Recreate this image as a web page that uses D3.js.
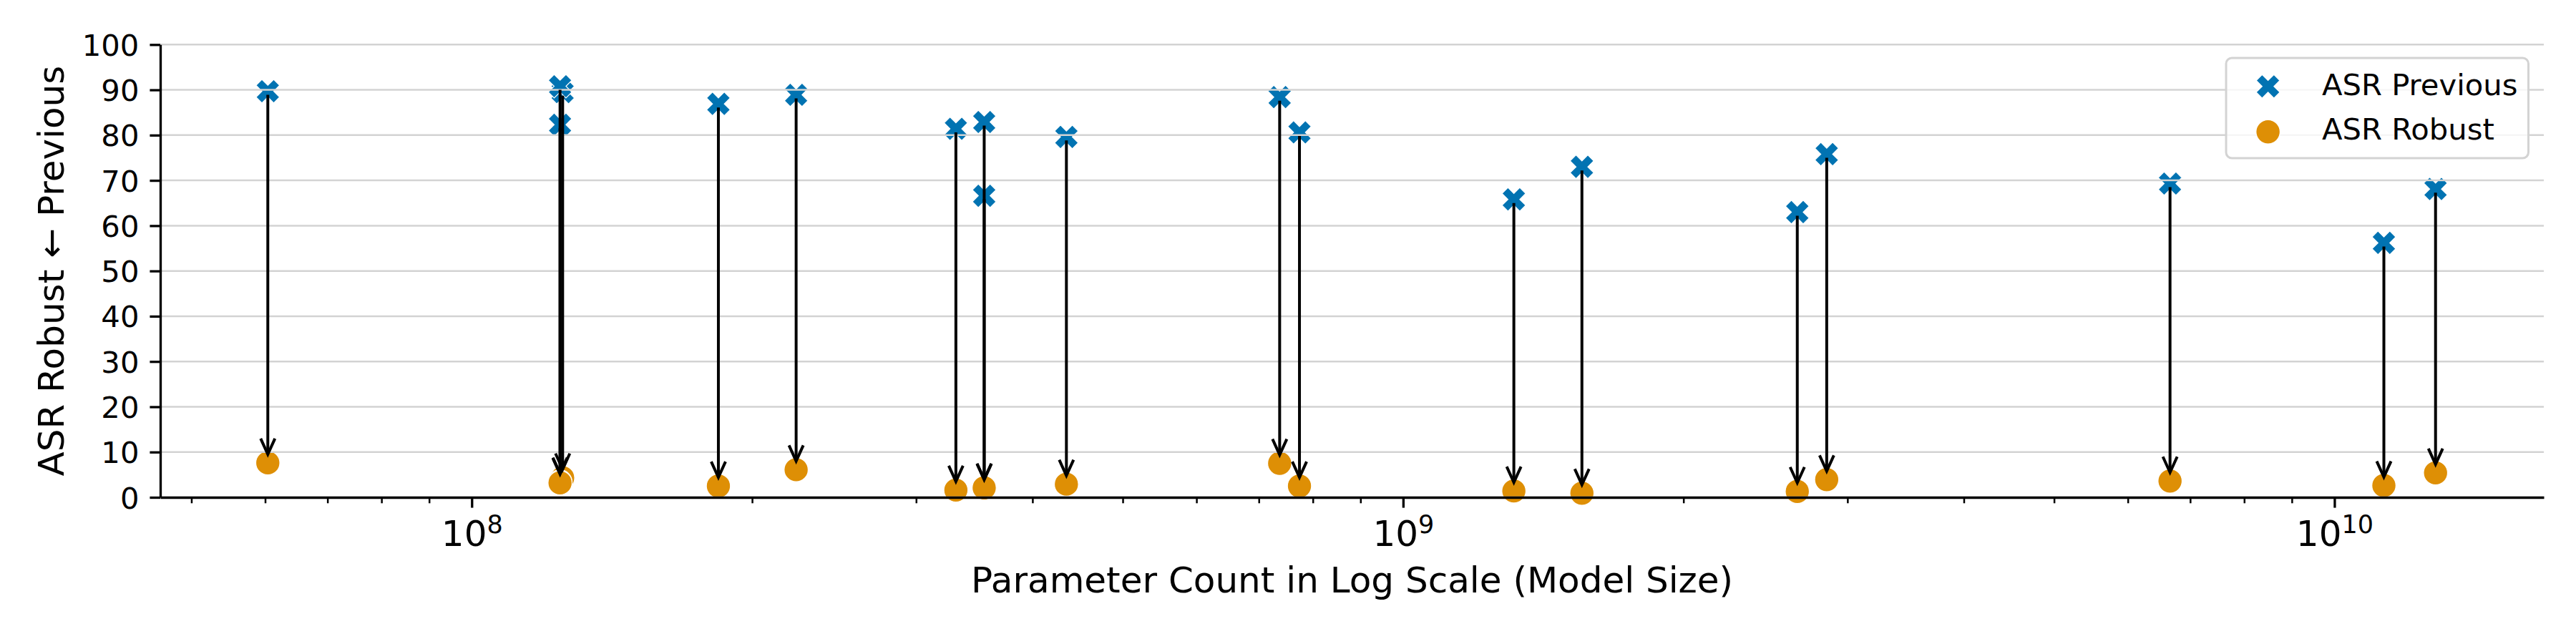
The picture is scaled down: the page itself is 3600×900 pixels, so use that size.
<!DOCTYPE html>
<html>
<head>
<meta charset="utf-8">
<script src="https://cdn.jsdelivr.net/npm/d3@7"></script>
<style>
  html, body { margin: 0; padding: 0; background: #ffffff; }
  svg { display: block; font-family: "DejaVu Sans", sans-serif; }
</style>
</head>
<body>
<svg id="chart" width="3600" height="900"></svg>
<script>
// ---- data ----
const paramCounts = [6.04e7, 1.252e8, 1.244e8, 1.244e8, 1.84e8, 2.23e8, 3.31e8, 3.55e8, 3.55e8,
                     4.35e8, 7.37e8, 7.74e8, 1.315e9, 1.556e9, 2.65e9, 2.85e9, 6.66e9, 1.13e10, 1.284e10];
const asrPrevious = [89.7, 89.5, 82.3, 90.8, 86.9, 88.9, 81.4, 66.6, 82.9,
                     79.6, 88.4, 80.6, 65.8, 73.0, 63.0, 75.8, 69.3, 56.2, 68.1];
const asrRobust   = [7.6, 4.3, 3.4, 3.2, 2.5, 6.1, 1.6, 2.0, 2.1,
                     2.9, 7.5, 2.5, 1.4, 0.9, 1.3, 3.9, 3.6, 2.6, 5.4];
const yTicks = [0, 10, 20, 30, 40, 50, 60, 70, 80, 90, 100];
const xMajorExponents = [8, 9, 10];
const seriesNames = ["ASR Previous", "ASR Robust"];
const seriesColors = ["#0173b2", "#de8f05"];
const xLabel = "Parameter Count in Log Scale (Model Size)";
const yLabel = "ASR Robust \u2190 Previous";

// ---- layout ----
const svg = d3.select("#chart");
const pLeft = 224, pRight = 3555, pTop = 62.3, pBottom = 695;
const x = d3.scaleLog().domain([4.63e7, 1.678e10]).range([pLeft, pRight]);
const y = d3.scaleLinear().domain([0, 100]).range([pBottom, pTop]);

const data = paramCounts.map((p, i) => ({ p, prev: asrPrevious[i], rob: asrRobust[i] }));

const xSym = d3.symbol().type(d3.symbolCross).size(680);
const markG = svg.append("g");

// previous (X markers)
markG.selectAll("path.prev").data(data).enter().append("path")
  .attr("class", "prev")
  .attr("d", xSym)
  .attr("transform", d => `translate(${x(d.p)},${y(d.prev)}) rotate(45)`)
  .attr("fill", seriesColors[0])
  .attr("stroke", "#ffffff").attr("stroke-width", 1.2);

// robust (circles)
markG.selectAll("circle.rob").data(data).enter().append("circle")
  .attr("class", "rob")
  .attr("cx", d => x(d.p)).attr("cy", d => y(d.rob)).attr("r", 16.8)
  .attr("fill", seriesColors[1])
  .attr("stroke", "#ffffff").attr("stroke-width", 1.2);

// grid (drawn over markers, as in the reference)
svg.append("g").selectAll("line").data(yTicks).enter().append("line")
  .attr("x1", pLeft).attr("x2", pRight)
  .attr("y1", d => y(d)).attr("y2", d => y(d))
  .attr("stroke", "#d3d3d3").attr("stroke-width", 2.5);

// axes
const yAxis = d3.axisLeft(y).tickValues(yTicks).tickSize(14.6).tickSizeOuter(0).tickPadding(15)
  .tickFormat(d3.format("d"));
const yG = svg.append("g").attr("transform", `translate(${pLeft},0)`).call(yAxis);
yG.select(".domain").attr("stroke", "#000").attr("stroke-width", 3.3);
yG.selectAll(".tick line").attr("stroke", "#000").attr("stroke-width", 3.3);
yG.selectAll(".tick text").attr("font-size", 41.7).attr("font-family", "DejaVu Sans")
  .attr("fill", "#000").attr("dy", "0.36em");

const majorVals = xMajorExponents.map(e => Math.pow(10, e));
const minorVals = [];
for (let e = 7; e <= 10; e++) for (let m = 2; m <= 9; m++) {
  const v = m * Math.pow(10, e);
  if (v >= x.domain()[0] && v <= x.domain()[1]) minorVals.push(v);
}
const xMinor = d3.axisBottom(x).tickValues(minorVals).tickSize(8.3).tickSizeOuter(0).tickFormat("");
const xMinG = svg.append("g").attr("transform", `translate(0,${pBottom})`).call(xMinor);
xMinG.select(".domain").remove();
xMinG.selectAll(".tick line").attr("stroke", "#000").attr("stroke-width", 2.5);

const xMajor = d3.axisBottom(x).tickValues(majorVals).tickSize(14.6).tickSizeOuter(0).tickFormat("");
const xG = svg.append("g").attr("transform", `translate(0,${pBottom})`).call(xMajor);
xG.select(".domain").attr("stroke", "#000").attr("stroke-width", 3.3);
xG.selectAll(".tick line").attr("stroke", "#000").attr("stroke-width", 3.3);
xG.selectAll(".tick text").remove();
xG.selectAll(".tick").data(xMajorExponents).each(function(e) {
  const t = d3.select(this).append("text")
    .attr("y", 68).attr("text-anchor", "middle")
    .attr("font-family", "DejaVu Sans").attr("fill", "#000").attr("font-size", 50);
  t.append("tspan").text("10");
  t.append("tspan").attr("font-size", 35).attr("dy", -18).text(String(e));
});

// arrows (on top)
const arrowG = svg.append("g");
data.forEach(d => {
  const xp = x(d.p), y1 = y(d.prev) + 5, y2 = y(d.rob) - 12;
  arrowG.append("line").attr("x1", xp).attr("x2", xp).attr("y1", y1).attr("y2", y2 - 1)
    .attr("stroke", "#000").attr("stroke-width", 4);
  arrowG.append("path")
    .attr("d", `M${xp - 10},${y2 - 22} L${xp},${y2} L${xp + 10},${y2 - 22}`)
    .attr("fill", "none").attr("stroke", "#000").attr("stroke-width", 4)
    .attr("stroke-linejoin", "miter").attr("stroke-linecap", "butt");
});

// axis labels
svg.append("text").attr("x", (pLeft + pRight) / 2).attr("y", 828)
  .attr("text-anchor", "middle").attr("font-size", 50).attr("font-family", "DejaVu Sans")
  .text(xLabel);
svg.append("text").attr("transform", `translate(89,${(pTop + pBottom) / 2}) rotate(-90)`)
  .attr("text-anchor", "middle").attr("font-size", 50).attr("font-family", "DejaVu Sans")
  .text(yLabel);

// legend
const lg = svg.append("g");
lg.append("rect").attr("x", 3111).attr("y", 81).attr("width", 422.5).attr("height", 140)
  .attr("rx", 8).attr("ry", 8)
  .attr("fill", "#ffffff").attr("fill-opacity", 0.8)
  .attr("stroke", "#d3d3d3").attr("stroke-width", 3);
lg.append("path").attr("d", xSym)
  .attr("transform", "translate(3169.6,120.7) rotate(45)")
  .attr("fill", seriesColors[0]).attr("stroke", "#fff").attr("stroke-width", 1.2);
lg.append("circle").attr("cx", 3169.6).attr("cy", 184.3).attr("r", 16.8)
  .attr("fill", seriesColors[1]).attr("stroke", "#fff").attr("stroke-width", 1.2);
lg.selectAll("text.leg").data(seriesNames).enter().append("text")
  .attr("x", 3245).attr("y", (d, i) => [133.3, 195][i])
  .attr("font-size", 41.7).attr("font-family", "DejaVu Sans").attr("fill", "#000")
  .text(d => d);
</script>
</body>
</html>
